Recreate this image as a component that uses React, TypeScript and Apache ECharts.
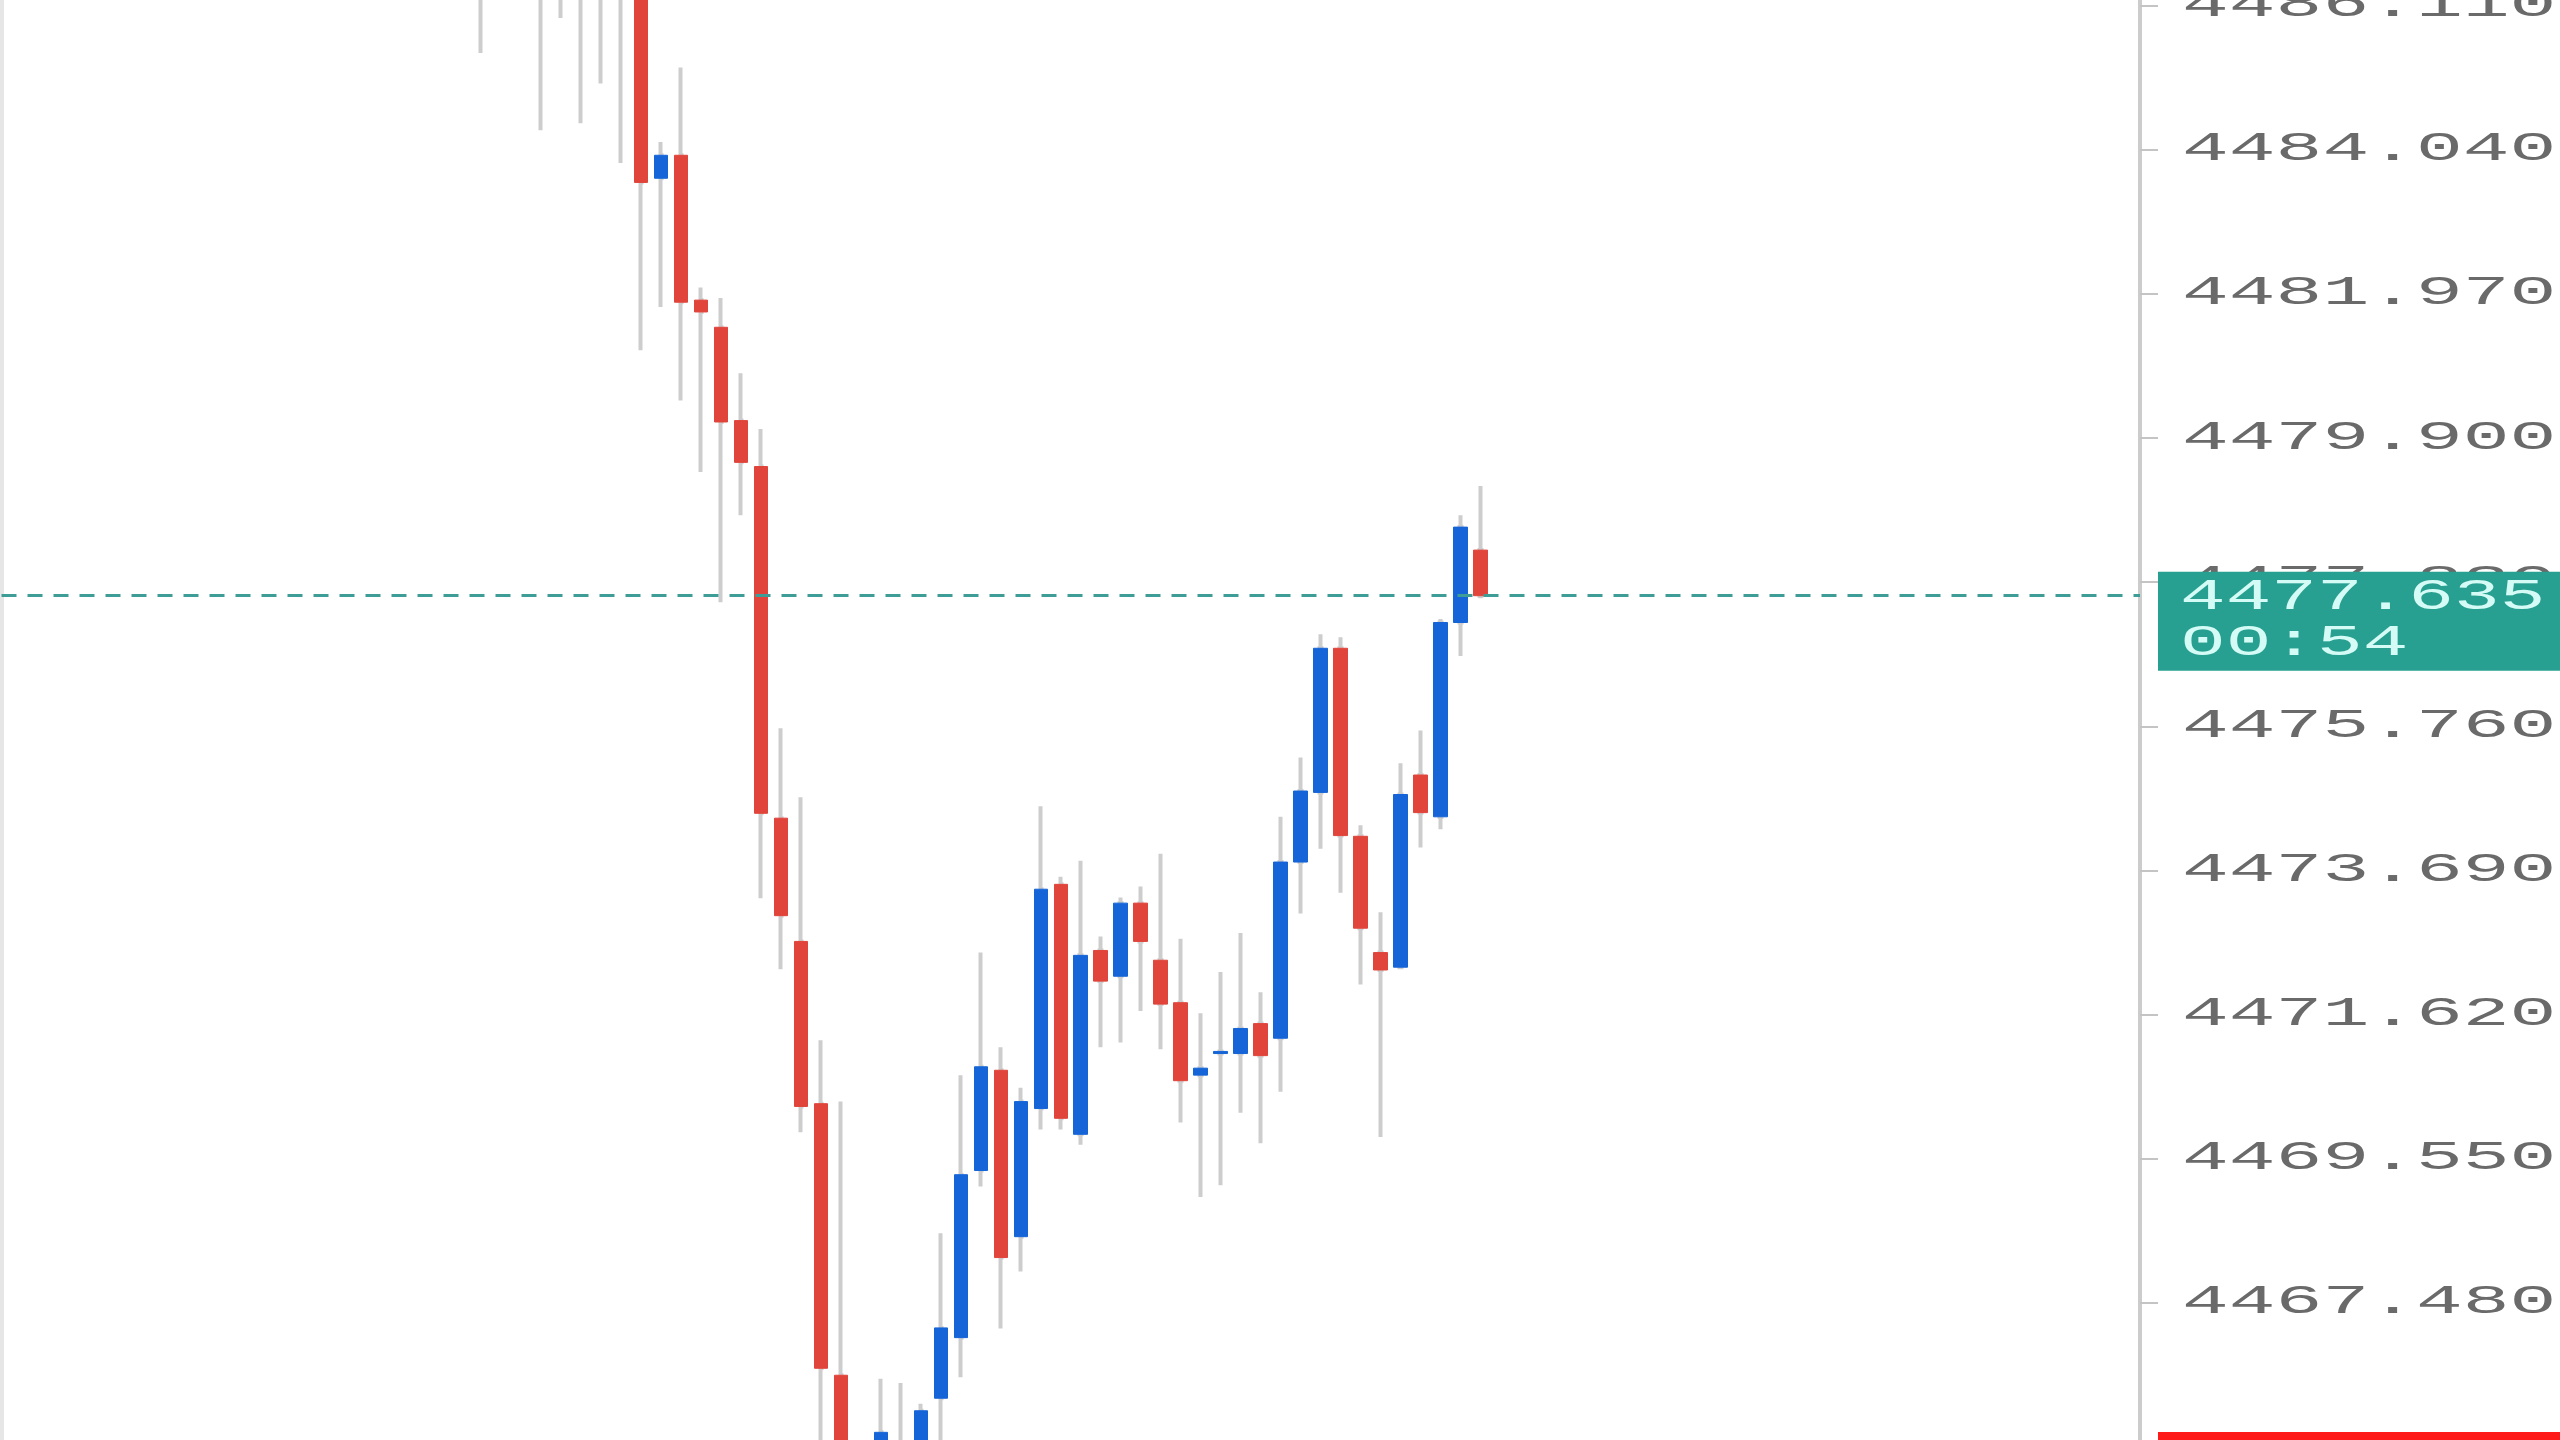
import React, { useEffect, useRef } from "react";
import * as echarts from "echarts";

// ---- data ----
const categoryCount = 108; // slots on the time axis (incl. empty future slots)
const firstIndex = 24; // slot of the first candle
const opens = [
  4487.2, 4487.0, 4487.5, 4487.0, 4486.5, 4487.1, 4486.4, 4486.9, 4487.4, 4483.63,
  4483.96, 4481.88, 4481.49, 4480.15, 4479.49, 4474.44, 4472.67, 4470.34, 4466.44, 4464.8,
  4465.1, 4465.1, 4465.3, 4466.11, 4466.98, 4469.38, 4470.82, 4468.43, 4470.27, 4473.49,
  4469.9, 4472.54, 4472.17, 4473.22, 4472.4, 4471.79, 4470.75, 4471.06, 4471.06, 4471.49,
  4471.28, 4473.81, 4474.81, 4476.88, 4474.18, 4472.51, 4472.3, 4475.06, 4474.46, 4477.25,
  4478.29,
];
const closes = [
  4486.6, 4487.5, 4487.0, 4486.5, 4487.1, 4486.4, 4486.9, 4487.4, 4483.57, 4483.96,
  4481.85, 4481.71, 4480.13, 4479.55, 4474.51, 4473.04, 4470.3, 4466.54, 4464.9, 4465.2,
  4465.62, 4465.45, 4465.93, 4467.12, 4469.32, 4470.87, 4468.13, 4470.37, 4473.42, 4470.13,
  4472.47, 4472.1, 4473.22, 4472.67, 4471.77, 4470.67, 4470.85, 4471.09, 4471.42, 4471.03,
  4473.81, 4474.83, 4476.88, 4474.19, 4472.86, 4472.26, 4474.78, 4474.52, 4477.25, 4478.62,
  4477.635,
];
const lows = [
  4485.43, 4486.5, 4486.4, 4484.32, 4485.93, 4484.42, 4484.99, 4483.85, 4481.16, 4481.78,
  4480.44, 4479.41, 4477.54, 4478.79, 4473.29, 4472.27, 4469.93, 4465.2, 4464.5, 4464.3,
  4464.8, 4464.9, 4465.0, 4465.3, 4466.41, 4469.15, 4467.11, 4467.93, 4469.97, 4469.97,
  4469.75, 4471.15, 4471.22, 4471.67, 4471.12, 4470.07, 4469.0, 4469.17, 4470.21, 4469.77,
  4470.51, 4473.07, 4474.0, 4473.37, 4472.05, 4469.86, 4472.28, 4474.02, 4474.28, 4476.77,
  4477.6,
];
const highs = [
  4487.8, 4488.0, 4488.2, 4487.6, 4487.5, 4487.7, 4487.3, 4487.9, 4487.8, 4484.15,
  4485.22, 4482.06, 4481.91, 4480.83, 4480.03, 4475.73, 4474.74, 4471.25, 4470.37, 4465.4,
  4466.39, 4466.33, 4466.03, 4468.48, 4470.75, 4472.51, 4471.15, 4470.57, 4474.61, 4473.6,
  4473.83, 4472.74, 4473.3, 4473.46, 4473.93, 4472.71, 4471.64, 4472.23, 4472.79, 4471.94,
  4474.46, 4475.31, 4477.08, 4477.04, 4474.34, 4473.09, 4475.23, 4475.7, 4477.3, 4478.79,
  4479.21,
];
const tickValues = [4467.48, 4469.55, 4471.62, 4473.69, 4475.76, 4477.83, 4479.9, 4481.97, 4484.04, 4486.11];
const axisMin = 4465.51;
const axisMax = 4486.19;
const lastPrice = 4477.635;
const countdown = "00:54";

// ---- colours / styles ----
const UP = "#1565d8";
const DOWN = "#e0443a";
const WICK = "#cdcdcd";
const TEAL = "#27a091";
const LABEL = "#6a6a6a";
const LABEL_FONT = "Liberation Mono";

export default function App() {
  const ref = useRef<HTMLDivElement>(null);

  useEffect(() => {
    const chart = echarts.init(ref.current!, null, { renderer: "svg" });

    const categories: string[] = [];
    for (let i = 0; i < categoryCount; i++) categories.push(String(i));

    const empty = ["-", "-", "-", "-"];
    const wickData: any[] = [];
    const bodyData: any[] = [];
    for (let i = 0; i < categoryCount; i++) {
      const k = i - firstIndex;
      if (k >= 0 && k < opens.length) {
        const o = opens[k];
        const c = closes[k];
        wickData.push([o, c, lows[k], highs[k]]);
        bodyData.push([o, c, Math.min(o, c), Math.max(o, c)]);
      } else {
        wickData.push(empty);
        bodyData.push(empty);
      }
    }

    chart.setOption({
      animation: false,
      backgroundColor: "#ffffff",
      grid: { left: 1.5, right: 420, top: 0, bottom: 0 },
      xAxis: {
        type: "category",
        data: categories,
        boundaryGap: false,
        show: false,
      },
      yAxis: {
        type: "value",
        position: "right",
        min: axisMin,
        max: axisMax,
        scale: true,
        axisLine: { show: true, lineStyle: { color: "#cccccc", width: 4 } },
        axisTick: {
          show: true,
          customValues: tickValues,
          length: 18,
          lineStyle: { color: "#c4c4c4", width: 2 },
        },
        axisLabel: { show: false },
        splitLine: { show: false },
      },
      series: [
        {
          type: "candlestick",
          name: "wick",
          data: wickData,
          barWidth: 2,
          clip: true,
          itemStyle: {
            color: WICK,
            color0: WICK,
            borderColor: WICK,
            borderColor0: WICK,
            borderWidth: 4,
          },
          silent: true,
        },
        {
          type: "candlestick",
          name: "body",
          data: bodyData,
          barWidth: 14,
          clip: true,
          itemStyle: {
            color: UP,
            color0: DOWN,
            borderColor: UP,
            borderColor0: DOWN,
            borderColorDoji: UP,
            borderWidth: 1,
          },
          markLine: {
            silent: true,
            symbol: ["none", "none"],
            label: { show: false },
            lineStyle: { color: "#3f9d98", width: 3, type: [15, 11] },
            data: [{ yAxis: lastPrice }],
          },
        },
      ],
    });

    const toY = (v: number) => chart.convertToPixel({ yAxisIndex: 0 }, v) as number;
    const labelX = 2182;
    const sx = 1.95;
    const graphics: any[] = [];
    graphics.push({
      type: "rect",
      shape: { x: 0, y: 0, width: 4, height: 1440 },
      style: { fill: "#e6e6e6" },
      z: 1,
    });
    tickValues.forEach((v) => {
      graphics.push({
        type: "text",
        x: labelX,
        y: toY(v),
        scaleX: sx,
        z: 2,
        style: {
          text: v.toFixed(3),
          fontFamily: LABEL_FONT,
          fontSize: 40,
          fill: LABEL,
          align: "left",
          verticalAlign: "middle",
        },
      });
    });
    const yl = toY(lastPrice);
    graphics.push({
      type: "rect",
      shape: { x: 2158, y: yl - 24, width: 402, height: 99 },
      style: { fill: TEAL },
      z: 10,
    });
    graphics.push({
      type: "text",
      x: 2180,
      y: yl + 2,
      scaleX: 1.73,
      z: 11,
      style: {
        text: lastPrice.toFixed(3),
        fontFamily: LABEL_FONT,
        fontSize: 44,
        fill: "#d4fbf5",
        align: "left",
        verticalAlign: "middle",
      },
    });
    graphics.push({
      type: "text",
      x: 2180,
      y: yl + 48,
      scaleX: 1.73,
      z: 11,
      style: {
        text: countdown,
        fontFamily: LABEL_FONT,
        fontSize: 44,
        fill: "#d4fbf5",
        align: "left",
        verticalAlign: "middle",
      },
    });
    graphics.push({
      type: "rect",
      shape: { x: 2158, y: 1432, width: 402, height: 10 },
      style: { fill: "#ff1a1a" },
      z: 10,
    });

    chart.setOption({ graphic: graphics });

    return () => {
      chart.dispose();
    };
  }, []);

  return (
    <div
      ref={ref}
      style={{ position: "absolute", left: 0, top: 0, width: 2560, height: 1440 }}
    />
  );
}
